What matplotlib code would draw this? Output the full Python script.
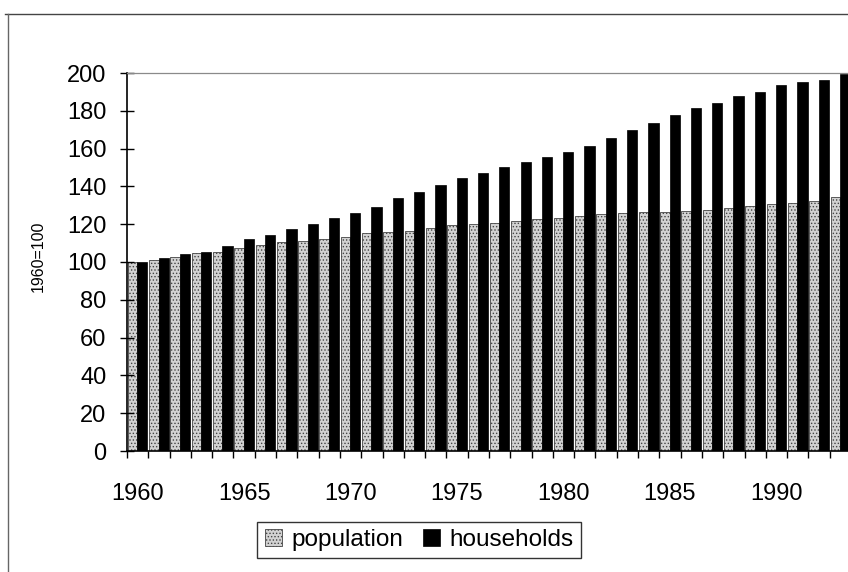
import matplotlib
matplotlib.use("Agg")
import matplotlib.pyplot as plt
from matplotlib.lines import Line2D
import numpy as np

plt.rcParams['font.family'] = ['Liberation Sans', 'DejaVu Sans']
plt.rcParams['hatch.color'] = '#7a7a7a'
plt.rcParams['hatch.linewidth'] = 0.6

years = list(range(1960, 1994))
population = [100.0, 101.0, 102.8, 104.9, 105.3, 107.2, 109.0, 110.4, 111.1, 112.0,
              113.4, 115.2, 116.0, 116.6, 117.8, 119.6, 120.0, 120.8, 121.7, 122.6,
              123.5, 124.3, 125.2, 125.7, 126.3, 126.6, 127.2, 127.7, 128.4, 129.8,
              130.9, 131.4, 132.4, 134.2]
households = [100.0, 102.0, 104.0, 105.4, 108.5, 112.0, 114.3, 117.5, 120.1, 123.5,
              125.8, 129.3, 133.7, 137.0, 140.7, 144.3, 146.9, 150.4, 152.7, 155.7,
              158.2, 161.4, 165.8, 170.1, 173.4, 177.8, 181.3, 184.0, 187.8, 190.1,
              193.7, 195.4, 196.3, 199.5]
y_ticks = [0, 20, 40, 60, 80, 100, 120, 140, 160, 180, 200]
x_label_years = [1960, 1965, 1970, 1975, 1980, 1985, 1990]

W, H = 848, 572
fig = plt.figure(figsize=(W / 100, H / 100), dpi=100)
ax = fig.add_axes([127 / W, 1 - 451 / H, (851 - 127) / W, 378 / H])

x = np.arange(len(years))
ax.bar(x - 0.46, population, width=0.44, align='edge', color='#d2d2d2',
       hatch='.....', edgecolor='#444444', linewidth=0.6, label='population')
ax.bar(x - 0.02, households, width=0.48, align='edge', color='black',
       edgecolor='black', linewidth=0.5, label='households')

ax.set_xlim(-0.5, len(years) - 0.5)
ax.set_ylim(0, 200)
ax.set_yticks(y_ticks)
ax.set_yticklabels([str(v) for v in y_ticks], fontsize=17)
ax.tick_params(axis='y', direction='inout', length=9.5, width=1, pad=10)

ax.set_xticks([years.index(y) for y in x_label_years])
ax.set_xticklabels([str(y) for y in x_label_years], fontsize=17)
ax.set_xticks(np.arange(len(years) + 1) - 0.5, minor=True)
ax.tick_params(axis='x', which='major', length=0, pad=23)
ax.tick_params(axis='x', which='minor', direction='out', length=5, width=1)

ax.spines['right'].set_visible(False)
ax.spines['top'].set_linestyle((0, (1, 1)))
ax.spines['top'].set_color('#8a8a8a')
ax.spines['top'].set_linewidth(0.9)
ax.spines['left'].set_linewidth(1.2)
ax.spines['bottom'].set_linewidth(1.2)

fig.text(38.5 / W, 1 - 256 / H, '1960=100', rotation=90, fontsize=11.5,
         ha='center', va='center')

leg = fig.legend(loc='center', bbox_to_anchor=(419 / W, 1 - 540 / H), ncol=2,
                 fontsize=17.5, frameon=True, fancybox=False, edgecolor='black',
                 handlelength=0.7, handleheight=0.7, handletextpad=0.4,
                 columnspacing=0.8, borderpad=0.3, borderaxespad=0)
leg.get_frame().set_linewidth(1)

fig.add_artist(Line2D([5 / W, 1], [1 - 14 / H, 1 - 14 / H], color='#444444', lw=1))
fig.add_artist(Line2D([8 / W, 8 / W], [1 - 14 / H, 0], color='#666666', lw=1))

fig.savefig('out.png', dpi=100)
